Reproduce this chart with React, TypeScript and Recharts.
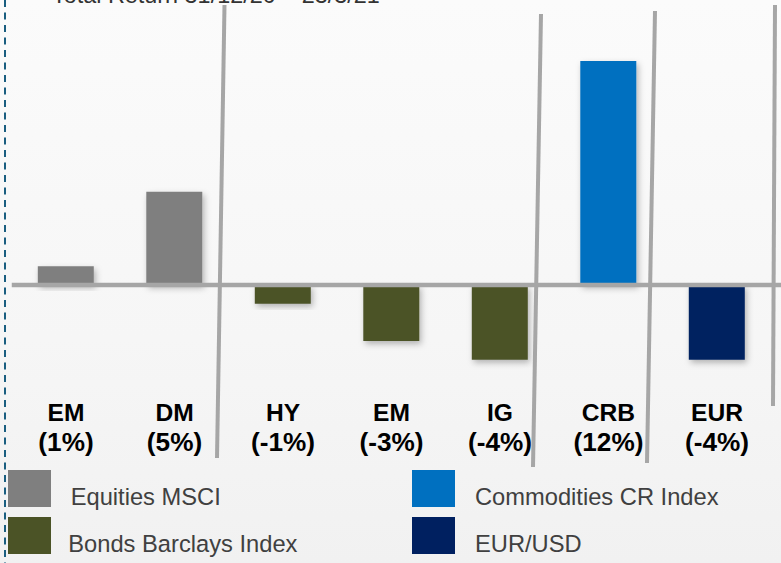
import React from 'react';
import { BarChart, Bar, XAxis, YAxis, ReferenceLine } from 'recharts';

const categories = ['EM', 'DM', 'HY', 'EM', 'IG', 'CRB', 'EUR'];
const returnLabels = ['(1%)', '(5%)', '(-1%)', '(-3%)', '(-4%)', '(12%)', '(-4%)'];
const equitiesMSCI = [1.0, 5.0, null, null, null, null, null];
const bondsBarclays = [null, null, -1.0, -3.0, -4.0, null, null];
const commoditiesCR = [null, null, null, null, null, 12.0, null];
const eurUsd = [null, null, null, null, null, null, -4.0];

const seriesKeys = ['equities', 'bonds', 'commodities', 'eurusd'];
const seriesNames = ['Equities MSCI', 'Bonds Barclays Index', 'Commodities CR Index', 'EUR/USD'];
const seriesColors = ['#7f7f7f', '#4b5326', '#0070c0', '#002060'];
const titleText = 'Total Return 31/12/20 \u2013 23/3/21';

const data = categories.map((c, i) => ({
  idx: i,
  category: c,
  label: returnLabels[i],
  equities: equitiesMSCI[i],
  bonds: bondsBarclays[i],
  commodities: commoditiesCR[i],
  eurusd: eurUsd[i],
}));

const FONT = '"Liberation Sans", Arial, sans-serif';

const CategoryTick = (props: any) => {
  const { x, y, payload } = props;
  const i = payload.index;
  return (
    <g>
      <text x={x} y={y + 42.4} textAnchor="middle" fontFamily={FONT} fontWeight="bold" fontSize={24.6} fill="#000">
        {categories[i]}
      </text>
      <text x={x} y={y + 72.8} textAnchor="middle" fontFamily={FONT} fontWeight="bold" fontSize={26.2} fill="#000">
        {returnLabels[i]}
      </text>
    </g>
  );
};

const ZeroLine = (props: any) => {
  const { x1, y1, x2, y2 } = props;
  return <line x1={x1} y1={y1} x2={x2 + 10} y2={y2} stroke="#a6a6a6" strokeWidth={4.5} />;
};

// legend layout: series index -> column / row
const legendCols = [0, 0, 1, 1];
const legendRows = [0, 1, 0, 1];

export default function App() {
  return (
    <div
      style={{
        position: 'absolute',
        left: 0,
        top: 0,
        width: 781,
        height: 563,
        overflow: 'hidden',
        background: 'linear-gradient(180deg, #fbfbfb 0%, #f6f6f6 60%, #f1f1f1 100%)',
      }}
    >
      <div style={{ position: 'absolute', left: 0, top: 0 }}>
        <BarChart
          width={781}
          height={563}
          data={data}
          stackOffset="sign"
          barCategoryGap="24%"
          margin={{ top: 42.3, right: 9.75, bottom: 124.6, left: 11.75 }}
        >
          <defs>
            <filter id="barShadow" x="-20%" y="-20%" width="150%" height="150%">
              <feDropShadow dx="2" dy="3" stdDeviation="3" floodColor="#000" floodOpacity="0.28" />
            </filter>
          </defs>
          <XAxis
            dataKey="idx"
            type="category"
            axisLine={false}
            tickLine={false}
            tickSize={0}
            tickMargin={0}
            height={60}
            interval={0}
            tick={<CategoryTick />}
          />
          <YAxis hide domain={[-5, 13]} type="number" />
          {seriesKeys.map((k, i) => (
            <Bar
              key={k}
              dataKey={k}
              name={seriesNames[i]}
              stackId="a"
              fill={seriesColors[i]}
              isAnimationActive={false}
              filter="url(#barShadow)"
            />
          ))}
          <ReferenceLine y={0} shape={<ZeroLine />} />
        </BarChart>
      </div>
      <svg
        width={781}
        height={563}
        style={{ position: 'absolute', left: 0, top: 0, pointerEvents: 'none' }}
      >
        <text x={52} y={3} fontFamily={FONT} fontSize={23.4} fill="#333">{titleText}</text>
        <line x1={5} y1={0} x2={5} y2={563} stroke="#1a5e80" strokeWidth={2} strokeDasharray="7 5.5" />
        <line x1={224.5} y1={5} x2={217} y2={458} stroke="#a6a6a6" strokeWidth={4} />
        <line x1={541} y1={14} x2={533} y2={467} stroke="#a6a6a6" strokeWidth={4} />
        <line x1={655} y1={11} x2={647} y2={463} stroke="#a6a6a6" strokeWidth={4} />
        <line x1={775} y1={5} x2={773} y2={406} stroke="#a6a6a6" strokeWidth={4} />
        {seriesNames.map((name, s) => {
          const left = legendCols[s] === 0 ? 8 : 412;
          const textLeft = legendCols[s] === 0 ? (legendRows[s] === 0 ? 70.7 : 68.3) : 475;
          const top = legendRows[s] === 0 ? 470 : 517;
          return (
            <g key={name}>
              <rect x={left} y={top} width={43} height={37} fill={seriesColors[s]} />
              <text x={textLeft} y={top + 34.5} fontFamily={FONT} fontSize={23.7} fill="#404040">
                {name}
              </text>
            </g>
          );
        })}
      </svg>
    </div>
  );
}
